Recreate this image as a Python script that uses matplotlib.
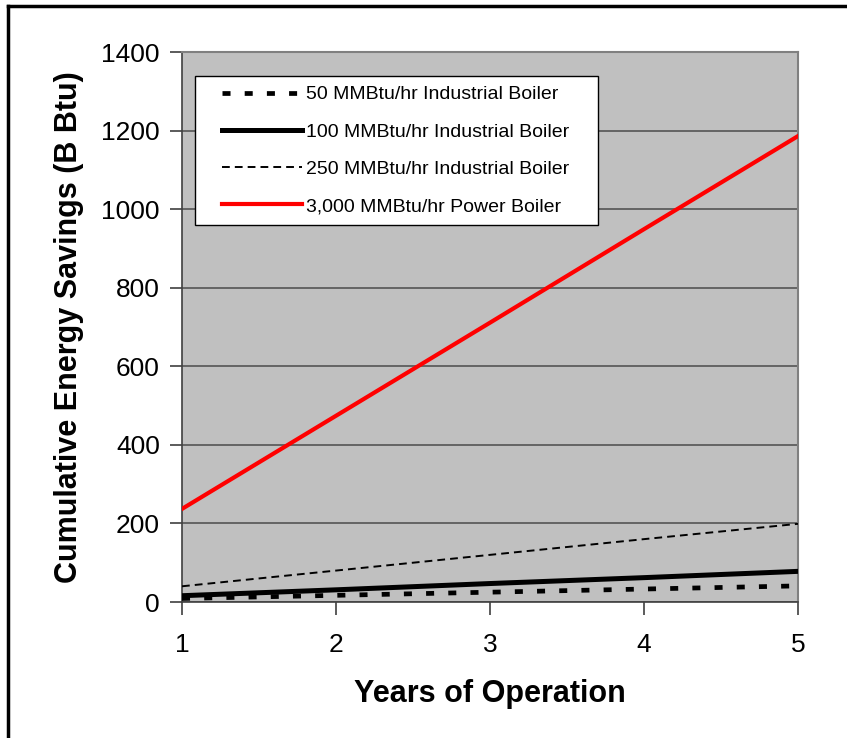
import matplotlib
matplotlib.use("Agg")
import matplotlib.pyplot as plt
from matplotlib.lines import Line2D
from matplotlib.legend_handler import HandlerLine2D

plt.rcParams['font.family'] = ['Liberation Sans', 'DejaVu Sans']

years = [1, 2, 3, 4, 5]
labels = ["50 MMBtu/hr Industrial Boiler", "100 MMBtu/hr Industrial Boiler",
          "250 MMBtu/hr Industrial Boiler", "3,000 MMBtu/hr Power Boiler"]
s50 = [9, 17, 25, 33, 41]
s100 = [16, 31, 47, 62, 78]
s250 = [40, 80, 120, 160, 199]
s3000 = [237, 474, 711, 949, 1186]

W, H = 847, 738
fig = plt.figure(figsize=(W / 100, H / 100), dpi=100)
ax = fig.add_axes([182 / W, 1 - 602 / H, (798 - 182) / W, (602 - 52) / H])
ax.set_facecolor('#c0c0c0')

ax.plot(years, s50, color='black', lw=3.4, linestyle=(0, (1.7, 3.0)), dash_capstyle='butt', label=labels[0], zorder=3)
ax.plot(years, s100, color='black', lw=3.6, label=labels[1], zorder=3)
ax.plot(years, s250, color='black', lw=1.4, linestyle=(0, (4.0, 2.6)), label=labels[2], zorder=3)
ax.plot(years, s3000, color='#ff0000', lw=3.0, label=labels[3], zorder=3)

ax.set_xlim(1, 5)
ax.set_ylim(0, 1400)
ax.set_xticks(years)
ax.set_yticks(range(0, 1401, 200))
ax.yaxis.grid(True, color='#555555', lw=1.2)
ax.set_axisbelow(True)
for s in ['top', 'right']:
    ax.spines[s].set_color('#808080')
    ax.spines[s].set_linewidth(1.5)
for s in ['left', 'bottom']:
    ax.spines[s].set_color('#404040')
    ax.spines[s].set_linewidth(1.2)
ax.tick_params(direction='out', length=9, width=1.2, color='#404040', labelsize=19, pad=7)
ax.tick_params(axis='x', pad=13)

ax.set_xlabel('Years of Operation', fontsize=22, fontweight='bold', labelpad=16)
ax.set_ylabel('Cumulative Energy Savings (B Btu)', fontsize=22, fontweight='bold', labelpad=12)

aw = 798 - 182
ah = 602 - 52
x0 = (195 - 182) / aw
y1 = 1 - (76 - 52) / ah
bw = (598 - 195) / aw
hm = {h: HandlerLine2D(xpad=0.88) for h in ax.get_lines()}
leg = ax.legend(loc='upper left', bbox_to_anchor=(x0, y1 - 0.3, bw, 0.3), mode='expand',
                fontsize=14, frameon=True, fancybox=False, edgecolor='black',
                handlelength=5.0, handletextpad=0.2, labelspacing=1.01, borderpad=0.5,
                borderaxespad=0, handler_map=hm)
leg.get_frame().set_linewidth(1.0)
leg.get_frame().set_facecolor('white')
leg.get_frame().set_alpha(1)

# figure border (top and left only)
fig.add_artist(Line2D([8 / W, 8 / W], [0, 1 - 6 / H], transform=fig.transFigure, color='black', lw=2.5))
fig.add_artist(Line2D([8 / W, 1], [1 - 6 / H, 1 - 6 / H], transform=fig.transFigure, color='black', lw=2.5))

fig.savefig('out.png', dpi=100)
